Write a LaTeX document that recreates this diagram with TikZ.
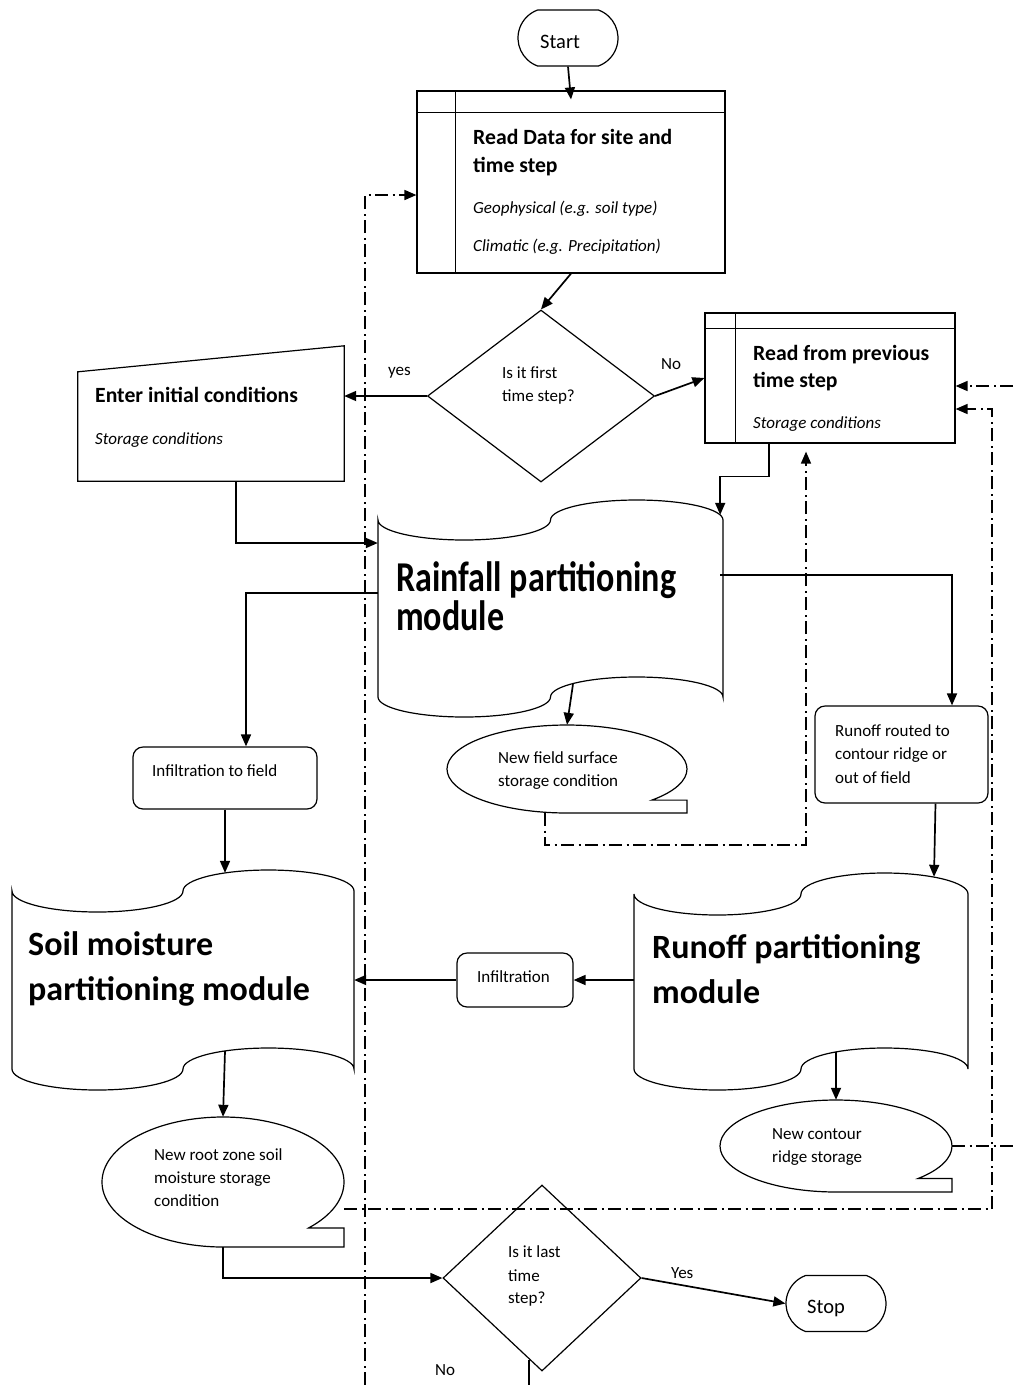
\documentclass[tikz,border=0pt]{standalone}
\usepackage{fontspec}
\setmainfont{Carlito}
\usetikzlibrary{arrows.meta,shapes.geometric,shapes.misc}

% punched-tape outline: x0, x1, ytop, ybot, amplitude
\newcommand\tapeshape[5]{%
  \draw[shp] (#1,{#3+#5}) arc[start angle=180,end angle=0,x radius={(#2-#1)/4},y radius=#5]
    arc[start angle=180,end angle=360,x radius={(#2-#1)/4},y radius=#5]
    -- (#2,{#4-#5})
    arc[start angle=0,end angle=-180,x radius={(#2-#1)/4},y radius=#5]
    arc[start angle=0,end angle=180,x radius={(#2-#1)/4},y radius=#5] -- cycle;}
% sequential storage outline: cx, cy, rx, ry
\newcommand\storshape[4]{%
  \draw[shp] ({#1+#3*cos(45)},{#2+#4*sin(45)}) arc[start angle=45,end angle=-270,x radius=#3,y radius=#4]
    -- ({#1+#3},{#2+#4}) -- ({#1+#3},{#2+#4*sin(45)}) -- cycle;}

\begin{document}
\begin{tikzpicture}[x=1pt,y=-1pt,
  shp/.style={line width=1.2pt},
  conn/.style={line width=1.7pt,-{Triangle[length=12pt,width=10pt]}},
  plain/.style={line width=1.7pt},
  dd/.style={line width=1.6pt,dash pattern=on 13pt off 4.5pt on 2pt off 4.5pt},
  ddarr/.style={dd,-{Triangle[length=12pt,width=10pt]}},
  term/.style={draw,shp,rounded rectangle,rounded rectangle arc length=140,minimum width=100pt,minimum height=56pt,inner sep=0pt},
  rbox/.style={draw,shp,rectangle,rounded corners=10pt,inner sep=0pt},
  hb/.style={anchor=base west,inner sep=0pt,font=\bfseries\fontsize{21.7}{25}\selectfont},
  big/.style={anchor=base west,inner sep=0pt,font=\bfseries\fontsize{34}{40}\selectfont},
  sm/.style={anchor=base west,inner sep=0pt,font=\fontsize{17}{20}\selectfont},
  lg/.style={anchor=base west,inner sep=0pt,font=\fontsize{20.5}{24}\selectfont},
  it/.style={anchor=base west,inner sep=0pt,font=\itshape\fontsize{17}{20}\selectfont},
  ghost/.style={inner sep=0pt,rectangle}
]
\useasboundingbox (0,0) rectangle (1013,1385);
\fill[white] (0,0) rectangle (1013,1385);

% ---- shapes ----
\node[term] (start) at (568,38) {};
\node[lg] (startt) at (540,48) {Start};

\node[draw,shp,rectangle,minimum width=308pt,minimum height=182pt,inner sep=0pt] (rd) at (571,182) {};
\draw[shp] ([yshift=-22pt]rd.north west) -- ([yshift=-22pt]rd.north east);
\draw[shp] ([xshift=39pt]rd.north west) -- ([xshift=39pt]rd.south west);
\node[hb] (rd1) at (473,144) {Read Data for site and};
\node[hb] (rd2) at (473,172) {time step};
\node[it] (rd3) at (473,213) {Geophysical (e.g. soil type)};
\node[it] (rd4) at (473,251) {Climatic (e.g. Precipitation)};

\node[draw,shp,diamond,minimum width=227pt,minimum height=172pt,inner sep=0pt] (d1) at (541,396) {};
\node[sm] (d1a) at (502,378) {Is it first};
\node[sm] (d1b) at (502,401) {time step?};

\node[ghost,minimum width=266pt,minimum height=135pt] (ei) at (211,413.5) {};
\draw[shp] ([yshift=-26pt]ei.north west) -- (ei.north east) -- (ei.south east) -- (ei.south west) -- cycle;
\node[hb] (ei1) at (95,402) {Enter initial conditions};
\node[it] (ei2) at (95,444) {Storage conditions};

\node[draw,shp,rectangle,minimum width=250pt,minimum height=130pt,inner sep=0pt] (rp) at (830,378) {};
\draw[shp] ([yshift=-16pt]rp.north west) -- ([yshift=-16pt]rp.north east);
\draw[shp] ([xshift=31pt]rp.north west) -- ([xshift=31pt]rp.south west);
\node[hb] (rp1) at (753,360) {Read from previous};
\node[hb] (rp2) at (753,387) {time step};
\node[it] (rp3) at (753,428) {Storage conditions};

\node[ghost,minimum width=345pt,minimum height=217pt] (rf) at (550.5,608.5) {};
\tapeshape{378}{723}{500}{717}{20}
\node[big] (rf1) at (396,591) {\scalebox{1}[1.25]{Rainfall partitioning}};
\node[big] (rf2) at (396,630) {\scalebox{1}[1.25]{module}};

\node[ellipse,inner sep=0pt,minimum width=240pt,minimum height=88pt] (nf) at (567,769) {};
\storshape{567}{769}{120}{44}
\node[sm] (nf1) at (498,763) {New field surface};
\node[sm] (nf2) at (498,786) {storage condition};

\node[rbox,minimum width=184pt,minimum height=62pt] (itf) at (225,778) {};
\node[sm] (itf1) at (152,776) {Infiltration to field};

\node[rbox,minimum width=173pt,minimum height=97pt] (ror) at (901.5,754.5) {};
\node[sm] (ror1) at (835,736) {Runoff routed to};
\node[sm] (ror2) at (835,759) {contour ridge or};
\node[sm] (ror3) at (835,783) {out of field};

\node[ghost,minimum width=342pt,minimum height=220pt] (sm) at (183,980) {};
\tapeshape{12}{354}{870}{1090}{21}
\node[big] (sm1) at (28,955) {Soil moisture};
\node[big] (sm2) at (28,1000) {partitioning module};

\node[ghost,minimum width=334pt,minimum height=217pt] (rm) at (801,981.5) {};
\tapeshape{634}{968}{873}{1090}{21}
\node[big] (rm1) at (652,958) {Runoff partitioning};
\node[big] (rm2) at (652,1003) {module};

\node[rbox,minimum width=116pt,minimum height=54pt] (inf) at (515,980) {};
\node[sm] (inf1) at (477,982) {Infiltration};

\node[ellipse,inner sep=0pt,minimum width=232pt,minimum height=92pt] (cr) at (836,1146) {};
\storshape{836}{1146}{116}{46}
\node[sm] (cr1) at (772,1139) {New contour};
\node[sm] (cr2) at (772,1162) {ridge storage};

\node[ellipse,inner sep=0pt,minimum width=242pt,minimum height=130pt] (rz) at (223,1182) {};
\storshape{223}{1182}{121}{65}
\node[sm] (rz1) at (154,1160) {New root zone soil};
\node[sm] (rz2) at (154,1183) {moisture storage};
\node[sm] (rz3) at (154,1206) {condition};

\node[draw,shp,diamond,minimum width=198pt,minimum height=186pt,inner sep=0pt] (d2) at (542,1278) {};
\node[sm] (d2a) at (508,1257) {Is it last};
\node[sm] (d2b) at (508,1281) {time};
\node[sm] (d2c) at (508,1303) {step?};

\node[term] (stop) at (836,1303.5) {};
\node[lg] (stopt) at (807,1313) {Stop};

% ---- labels ----
\node[sm] (lyes) at (388,375) {yes};
\node[sm] (lno1) at (661,369) {No};
\node[sm] (lyes2) at (671,1278) {Yes};
\node[sm] (lno2) at (435,1375) {No};

% ---- solid connectors ----
\draw[conn] (start.south) -- ([yshift=-9pt]rd.north);
\draw[conn] (rd.south) -- (d1.north);
\draw[conn] (d1.west) -- (d1.west -| ei.east);
\draw[conn] (d1.east) -- (rp.west);
\draw[conn] ([xshift=25pt]ei.south) |- ([yshift=65.5pt]rf.west);
\draw[conn] ([xshift=-61pt]rp.south) -- ++(0,33) -| ([xshift=-3pt,yshift=-15pt]rf.north east);
\draw[conn] ([xshift=-3pt,yshift=33.5pt]rf.east) -| ([xshift=50.5pt]ror.north);
\draw[conn] ([yshift=15.5pt]rf.west) -| ([xshift=21pt]itf.north);
\draw[conn] ([xshift=22.5pt,yshift=33pt]rf.south) -- (nf.north);
\draw[conn] (itf.south) -- ([yshift=-3pt]itf.south |- sm.north);
\draw[conn] ([xshift=34pt]ror.south) -- ([xshift=133pt,yshift=-4pt]rm.north);
\draw[conn] (rm.west |- inf.east) -- (inf.east);
\draw[conn] (inf.west) -- (inf.west -| sm.east);
\draw[conn] ([xshift=42pt,yshift=39pt]sm.south) -- (rz.north);
\draw[conn] ([xshift=35pt,yshift=38pt]rm.south) -- (cr.north);
\draw[conn] (rz.south) |- (d2.west);
\draw[conn] (d2.east) -- (stop.west);
\coordinate (nob) at (528,1385);
\draw[plain] (d2.-99) -- (d2.-99 |- nob);

% ---- dash-dot loops ----
\coordinate (lb) at (365,1385);
\draw[ddarr] (lb) |- ([yshift=-13pt]rd.west);
\draw[ddarr] ([xshift=-22pt]nf.south) -- ++(0,32) -| ([xshift=-24pt,yshift=-8pt]rp.south);
\coordinate (re1) at (1013,1146);
\draw[dd] (cr.east) -- (re1);
\coordinate (re2) at (1013,386);
\draw[ddarr] (re2) -- (re2 -| rp.east);
\draw[ddarr] ([yshift=-27pt]rz.east) -- ++(648,0) |- ([yshift=-31pt]rp.east);
\end{tikzpicture}
\end{document}
